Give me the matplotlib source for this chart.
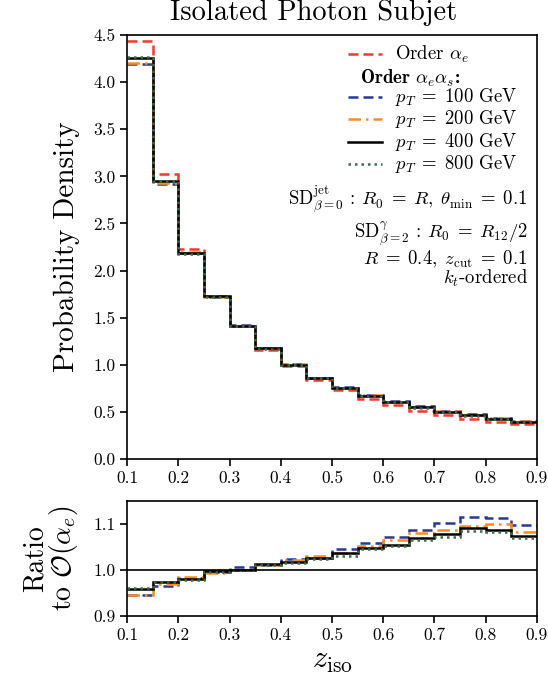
import matplotlib
matplotlib.use("Agg")
import matplotlib.pyplot as plt
import numpy as np

plt.rcParams.update({
    "font.family": "cmr10",
    "mathtext.fontset": "cm",
    "axes.formatter.use_mathtext": True,
    "axes.linewidth": 1.2,
})

# bins of z_iso
edges = np.round(np.arange(0.10, 0.90001, 0.05), 2)

# Order alpha_e probability density
lo_density = [4.44, 3.025, 2.226, 1.733, 1.412, 1.160, 0.985, 0.835,
              0.730, 0.642, 0.572, 0.513, 0.465, 0.424, 0.393, 0.368]

# Order alpha_e alpha_s ratios to O(alpha_e), per pT
ratio_100 = [0.945, 0.965, 0.982, 0.995, 1.007, 1.012, 1.024, 1.027,
             1.045, 1.058, 1.072, 1.088, 1.102, 1.116, 1.113, 1.097]
ratio_200 = [0.946, 0.970, 0.985, 0.993, 1.000, 1.012, 1.022, 1.030,
             1.037, 1.052, 1.066, 1.080, 1.088, 1.095, 1.100, 1.083]
ratio_400 = [0.959, 0.974, 0.980, 0.998, 1.000, 1.013, 1.018, 1.026,
             1.036, 1.048, 1.055, 1.069, 1.078, 1.092, 1.087, 1.073]
ratio_800 = [0.960, 0.975, 0.978, 0.995, 0.999, 1.011, 1.016, 1.024,
             1.030, 1.045, 1.053, 1.065, 1.072, 1.085, 1.082, 1.070]

pt_labels = ["100", "200", "400", "800"]

lo = np.array(lo_density)
series = [
    (ratio_100, dict(color="#283a93", ls=(0, (4, 2)))),
    (ratio_200, dict(color="#ff8a24", ls=(0, (5, 2, 1, 2)))),
    (ratio_400, dict(color="black", ls="-")),
    (ratio_800, dict(color="#3d6b45", ls=(0, (1, 1.6)))),
]
red_style = dict(color="#ee3b2b", ls=(0, (4, 2)))
lw = 1.8
fs = 13.5

fig = plt.figure(figsize=(5.48, 6.87), dpi=100)
ax = fig.add_axes([0.2318, 0.3319, 0.748, 0.617])
axr = fig.add_axes([0.2318, 0.1033, 0.748, 0.1674])

# main panel
ax.stairs(lo, edges, lw=lw, baseline=None, **red_style)
for r, st in series:
    ax.stairs(lo * np.array(r), edges, lw=lw, baseline=None, **st)

ax.set_xlim(0.1, 0.9)
ax.set_ylim(0, 4.5)
ax.set_xticks(np.arange(0.1, 0.91, 0.1))
ax.set_yticks(np.arange(0, 4.51, 0.5))
ax.xaxis.set_major_formatter(matplotlib.ticker.FormatStrFormatter("%.1f"))
ax.yaxis.set_major_formatter(matplotlib.ticker.FormatStrFormatter("%.1f"))
ax.tick_params(direction="out", length=5, width=1.2, labelsize=12.5,
               top=False, right=False)
ax.set_ylabel("Probability Density", fontsize=21, labelpad=9)
fig.text(0.573, 0.982, "Isolated Photon Subjet", fontsize=20.5, ha="center", va="center")

# legend, laid out by hand so the rows sit tight like the original
def legend_row(y, style, label):
    ax.plot([0.539, 0.622], [y, y], transform=ax.transAxes, lw=lw, **style)
    ax.text(0.654, y, label, transform=ax.transAxes, ha="left", va="center",
            fontsize=fs)

legend_row(0.955, red_style, r"Order $\alpha_e$")
ax.text(0.69, 0.899, r"Order $\boldsymbol{\alpha_e \alpha_s}$:", transform=ax.transAxes,
        ha="center", va="center", fontsize=fs, fontweight="bold", family="cmb10")
for (_, st), p, y in zip(series, pt_labels, [0.854, 0.802, 0.748, 0.696]):
    legend_row(y, st, r"$p_T\;=\;%s$ GeV" % p)

ax.text(0.978, 0.611, r"SD$^{\rm jet}_{\beta=0}$ : $R_0\;=\;R,\;\theta_{\rm min}\;=\;0.1$",
        transform=ax.transAxes, ha="right", va="center", fontsize=fs)
ax.text(0.978, 0.531, r"SD$^{\gamma}_{\beta=2}$ : $R_0\;=\;R_{12}/2$",
        transform=ax.transAxes, ha="right", va="center", fontsize=fs)
ax.text(0.978, 0.470, r"$R\;=\;0.4,\;z_{\rm cut}\;=\;0.1$",
        transform=ax.transAxes, ha="right", va="center", fontsize=fs)
ax.text(0.978, 0.425, r"$k_t$-ordered",
        transform=ax.transAxes, ha="right", va="center", fontsize=fs)

# ratio panel
for r, st in series:
    axr.stairs(r, edges, lw=lw, baseline=None, **st)
axr.axhline(1.0, color="black", lw=1.2)
axr.set_xlim(0.1, 0.9)
axr.set_ylim(0.9, 1.15)
axr.set_xticks(np.arange(0.1, 0.91, 0.1))
axr.set_yticks([0.9, 1.0, 1.1])
axr.xaxis.set_major_formatter(matplotlib.ticker.FormatStrFormatter("%.1f"))
axr.yaxis.set_major_formatter(matplotlib.ticker.FormatStrFormatter("%.1f"))
axr.tick_params(direction="out", length=5, width=1.2, labelsize=12.5,
                top=False, right=False)
axr.set_ylabel("Ratio\n" + r"to $\mathcal{O}(\alpha_e)$", fontsize=20, labelpad=9,
               linespacing=0.95)
axr.set_xlabel(r"$z_{\rm iso}$", fontsize=22, labelpad=3)

fig.savefig("out.png", dpi=100)
